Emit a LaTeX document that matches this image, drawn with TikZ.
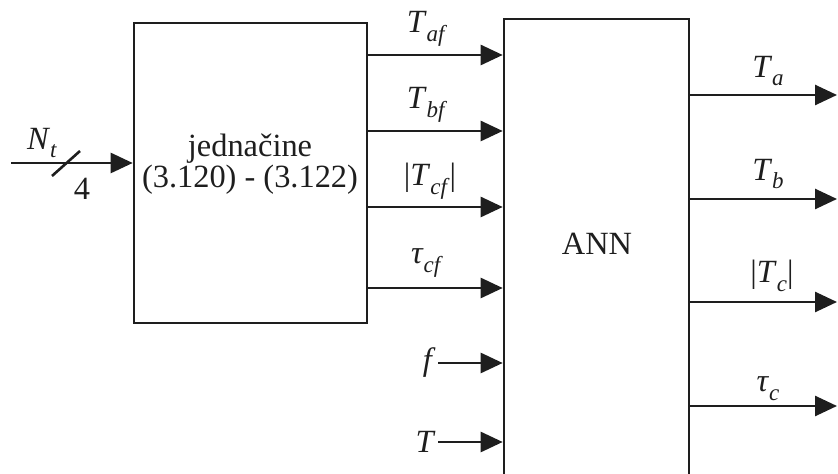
\documentclass[tikz,border=0pt]{standalone}
\usepackage{fontspec}
\setmainfont{Liberation Serif}
\usepackage{tikz}
\usetikzlibrary{arrows.meta,positioning}
\definecolor{LineBlack}{RGB}{30,30,30}
\newcommand{\vsub}[2]{\textit{#1}\raisebox{-0.6ex}{\fontsize{11.5}{12}\selectfont\textit{#2}}}

\begin{document}
\begin{tikzpicture}[x=0.5pt,y=-0.5pt,
  blk/.style={draw=LineBlack,line width=1.3pt,inner sep=0pt},
  txt/.style={font=\fontsize{16.2}{14.5}\selectfont,text=LineBlack,
              align=center,inner sep=1pt},
  arr/.style={-{Triangle[length=11pt,width=10pt]},line width=1.3pt,LineBlack},
]
\useasboundingbox (0,0) rectangle (838,474);
\clip (0,0) rectangle (838,474);
\node[blk,minimum width=116.5pt,minimum height=150pt] (eq) at (250.5,173) {};
\node[blk,minimum width=92.5pt,minimum height=270.5pt] (ann) at (596.5,289.5) {};
\node[txt] (eqtxt) at (250,164) {jednačine\\(3.120) - (3.122)};
\node[txt] (anntxt) at (597,244) {ANN};
% input N_t
\coordinate (nin) at (11,163);
\draw[arr] (nin) -- (eq.west |- nin);
\draw[LineBlack,line width=1.3pt] (52,176) -- (80,151);
\node[txt] (lnt) at (42,143) {\vsub{N}{t}};
\node[txt] (lfour) at (82,189) {4};
% eq -> ANN
\draw[arr] (eq.east |- 0,55) -- (ann.west |- 0,55);
\draw[arr] (eq.east |- 0,131) -- (ann.west |- 0,131);
\draw[arr] (eq.east |- 0,207) -- (ann.west |- 0,207);
\draw[arr] (eq.east |- 0,288) -- (ann.west |- 0,288);
\node[txt] (laf) at (427,29) {\vsub{T}{af}};
\node[txt] (lbf) at (427,105) {\vsub{T}{bf}};
\node[txt] (lcf) at (430,181) {|\vsub{T}{cf}|};
\node[txt] (ltcf) at (427,263) {\vsub{τ}{cf}};
% direct inputs
\coordinate (fin) at (438,363);
\coordinate (tin) at (438,442);
\node[txt,anchor=east] (lf) at (fin) {\textit{f}};
\node[txt,anchor=east] (lt) at (tin) {\textit{T}};
\draw[arr] (fin) -- (ann.west |- fin);
\draw[arr] (tin) -- (ann.west |- tin);
% outputs
\coordinate (oa) at (837,95);
\coordinate (ob) at (837,199);
\coordinate (oc) at (837,302);
\coordinate (ot) at (837,406);
\draw[arr] (ann.east |- oa) -- (oa);
\draw[arr] (ann.east |- ob) -- (ob);
\draw[arr] (ann.east |- oc) -- (oc);
\draw[arr] (ann.east |- ot) -- (ot);
\node[txt] (la) at (768,71) {\vsub{T}{a}};
\node[txt] (lb) at (768,174) {\vsub{T}{b}};
\node[txt] (lc) at (772,276) {|\vsub{T}{c}|};
\node[txt] (ltc) at (768,389) {\vsub{τ}{c}};
\end{tikzpicture}
\end{document}
